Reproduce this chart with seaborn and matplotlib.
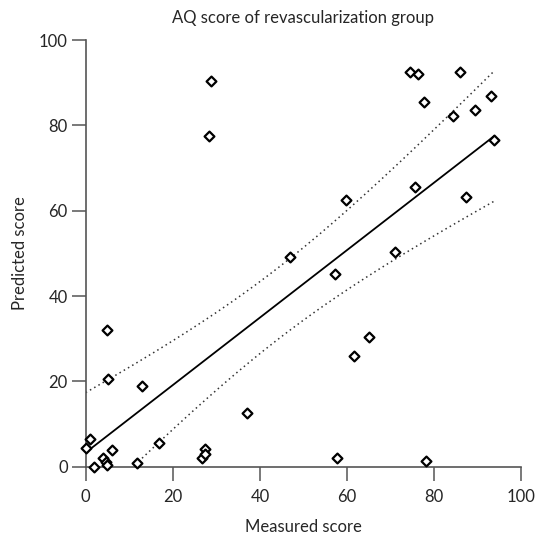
"""Measured vs predicted AQ score, revascularization group."""
import matplotlib

matplotlib.use("Agg")
import matplotlib.pyplot as plt
import numpy as np
import seaborn as sns

measured = [0, 1, 2, 4, 4.6, 5, 6, 5, 5.1, 11.7, 13, 16.8, 26.8, 27.4, 27.5,
            28.4, 28.8, 37.1, 46.8, 57.3, 57.6, 59.8, 61.5, 65, 71, 74.4,
            76.2, 75.6, 77.6, 78.2, 84.3, 86, 87.4, 89.5, 93.1, 93.7]
predicted = [4.4, 6.4, 0, 2, 1, 0.4, 3.9, 32, 20.5, 0.8, 19, 5.5, 2, 4.1, 2.9,
             77.5, 90.5, 12.5, 49.2, 45.1, 2.1, 62.4, 26, 30.3, 50.3, 92.6,
             92, 65.6, 85.5, 1.4, 82.3, 92.6, 63.2, 83.5, 86.9, 76.6]

title = "AQ score of revascularization group"
xlabel = "Measured score"
ylabel = "Predicted score"
ticks = [0, 20, 40, 60, 80, 100]
t_crit = 2.032  # t(0.975, n-2) for n = 36

if __name__ == "__main__":
    sns.set_style("ticks")
    plt.rcParams["font.family"] = ["Lato", "DejaVu Sans"]

    x = np.array(measured)
    y = np.array(predicted)
    n = len(x)
    slope, intercept = np.polyfit(x, y, 1)
    resid = y - (intercept + slope * x)
    s = np.sqrt(np.sum(resid ** 2) / (n - 2))
    xs = np.linspace(x.min(), x.max(), 200)
    fit = intercept + slope * xs
    hw = t_crit * s * np.sqrt(1 / n + (xs - x.mean()) ** 2 / np.sum((x - x.mean()) ** 2))

    fig = plt.figure(figsize=(5.39, 5.42), dpi=100)
    ax = fig.add_axes([0.159, 0.139, 0.808, 0.787])

    sns.regplot(x=x, y=y, scatter=False, ci=None, ax=ax,
                line_kws={"color": "black", "lw": 1.3})
    for band in (fit + hw, fit - hw):
        ax.plot(xs, band, color="#333333", lw=1.1, linestyle=(0, (1, 2.2)))

    sns.scatterplot(x=measured, y=predicted, marker="D", s=25, color="white",
                    edgecolor="black", linewidth=1.6, clip_on=False, zorder=3,
                    ax=ax)

    ax.set_xlim(0, 100)
    ax.set_ylim(0, 100)
    ax.set_xticks(ticks)
    ax.set_yticks(ticks)
    ax.tick_params(length=10, width=1.1, color="#555555", labelsize=12,
                   pad=3)
    ax.tick_params(axis="x", pad=6)
    for side in ("left", "bottom"):
        ax.spines[side].set_color("#555555")
        ax.spines[side].set_linewidth(1.2)
    sns.despine(ax=ax)

    ax.set_title(title, fontsize=12, pad=12)
    ax.set_xlabel(xlabel, fontsize=12, labelpad=10)
    ax.set_ylabel(ylabel, fontsize=12, labelpad=8)

    plt.savefig("out.png", dpi=100)
